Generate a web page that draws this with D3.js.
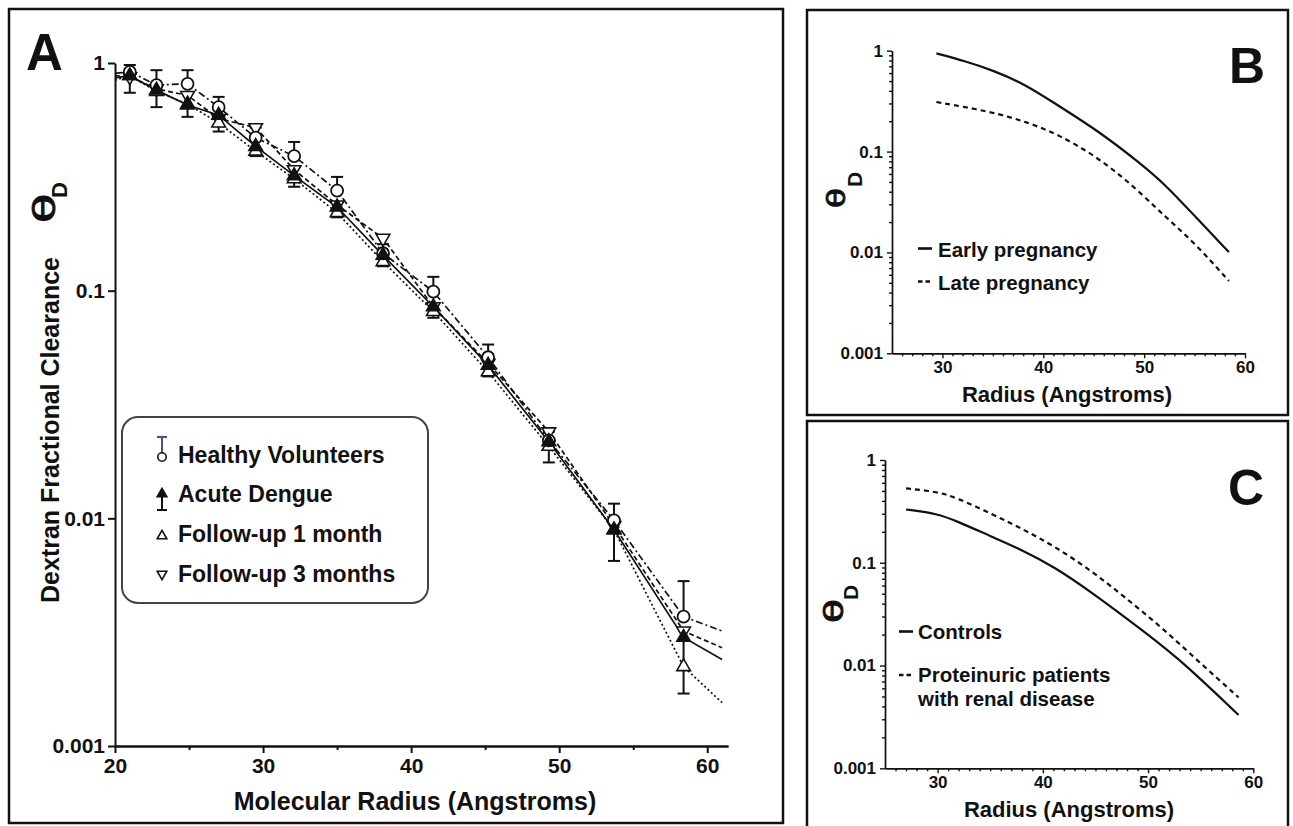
<!DOCTYPE html>
<html><head><meta charset="utf-8">
<script src="https://cdn.jsdelivr.net/npm/d3@7"></script>
<style>
body{margin:0;background:#fff;}
svg text{font-family:"Liberation Sans",Arial,Helvetica,sans-serif;font-weight:bold;fill:#111;}
svg text.theta{font-family:"DejaVu Sans",sans-serif;font-weight:normal;stroke:#111;stroke-width:0.9px;}
</style></head><body>
<svg id="c" width="1293" height="826"></svg>
<script>
// ---------- Panel A data ----------
const radiusA = [21, 22.8, 24.9, 27, 29.5, 32.1, 35, 38.1, 41.5, 45.2, 49.3, 53.7, 58.4];
const healthy      = [0.915, 0.80, 0.81, 0.64, 0.47, 0.39, 0.275, 0.146, 0.099, 0.051, 0.022, 0.0098, 0.0037];
const healthyUpper = [0.98, 0.93, 0.93, 0.71, 0.52, 0.45, 0.316, 0.16, 0.115, 0.058, 0.024, 0.0116, 0.0053];
const acute        = [0.88, 0.76, 0.654, 0.59, 0.43, 0.32, 0.233, 0.143, 0.085, 0.047, 0.0217, 0.0089, 0.003];
const acuteLower   = [0.74, 0.64, 0.58, 0.50, 0.39, 0.286, 0.21, 0.128, 0.076, 0.042, 0.0176, 0.0065, 0.0017];
const followUp1    = [0.88, 0.75, 0.66, 0.545, 0.41, 0.31, 0.22, 0.134, 0.081, 0.044, 0.0207, 0.0089, 0.00223];
const followUp3    = [0.87, 0.77, 0.72, 0.57, 0.52, 0.34, 0.238, 0.17, 0.085, 0.048, 0.024, 0.0093, 0.0032];
const lineStartX = 20, lineEndX = 61;
const lineStartA = [0.90, 0.86, 0.84, 0.88];   // HV, Acute, FU1, FU3
const lineEndA   = [0.0032, 0.0024, 0.00155, 0.0027];
const seriesNamesA = ["Healthy Volunteers", "Acute Dengue", "Follow-up 1 month", "Follow-up 3 months"];
const xTicksA = [20, 30, 40, 50, 60];
const xMinorA = [25, 35, 45, 55];
const yTicks = [1, 0.1, 0.01, 0.001];
const yTickLabels = ["1", "0.1", "0.01", "0.001"];

// ---------- Panel B data ----------
const earlyX = [29.4, 32.2, 35, 38.3, 41.6, 45.3, 49.6, 52.1, 55.1, 58.4];
const earlyY = [0.94, 0.79, 0.64, 0.46, 0.28, 0.164, 0.077, 0.047, 0.0225, 0.0101];
const lateX  = [29.4, 34.7, 38.3, 41.6, 45.3, 48.8, 52.1, 55.1, 58.4];
const lateY  = [0.31, 0.25, 0.198, 0.146, 0.089, 0.047, 0.0225, 0.0122, 0.0052];
const legendB = ["Early pregnancy", "Late pregnancy"];

// ---------- Panel C data ----------
const controlsX = [27, 30, 31.8, 35.1, 38, 41.1, 44.6, 50, 53.4, 58.6];
const controlsY = [0.33, 0.30, 0.255, 0.18, 0.134, 0.091, 0.052, 0.02, 0.0106, 0.0033];
const proteinX  = [27, 30, 31.8, 35.1, 38, 41.1, 44.6, 47.7, 51.2, 54.9, 58.6];
const proteinY  = [0.53, 0.49, 0.43, 0.30, 0.215, 0.145, 0.084, 0.047, 0.024, 0.0107, 0.0049];
const legendC = ["Controls", "Proteinuric patients", "with renal disease"];
const xTicksBC = [30, 40, 50, 60];

const ink = "#111";
const svg = d3.select("#c");

// ---------- frames ----------
function frame(x, y, w, h) {
  svg.append("rect").attr("x", x).attr("y", y).attr("width", w).attr("height", h)
    .attr("fill", "none").attr("stroke", ink).attr("stroke-width", 2.5);
}
frame(9, 9, 774, 814);
frame(807, 10, 481, 405);
frame(807, 421, 481, 412);

function styleAxis(g, fs, sw) {
  g.select(".domain").attr("stroke", ink).attr("stroke-width", sw);
  g.selectAll(".tick line").attr("stroke", ink).attr("stroke-width", sw);
  g.selectAll(".tick text").style("font-size", fs + "px").attr("fill", ink);
}

// ================= PANEL A =================
const xA = d3.scaleLinear().domain([20, 61.4]).range([115, 728]);
const yA = d3.scaleLog().domain([0.001, 1]).range([746, 63]);
const gA = svg.append("g");

gA.append("g").attr("transform", "translate(0,746)")
  .call(d3.axisBottom(xA).tickValues(xMinorA).tickFormat("").tickSize(4).tickSizeOuter(0))
  .call(g => styleAxis(g, 21, 2));
gA.append("g").attr("transform", "translate(0,746)")
  .call(d3.axisBottom(xA).tickValues(xTicksA).tickFormat(d => String(d)).tickSize(7).tickPadding(5).tickSizeOuter(0))
  .call(g => styleAxis(g, 21, 2));
gA.append("g").attr("transform", "translate(115,0)")
  .call(d3.axisLeft(yA).tickValues(yTicks).tickFormat((d, i) => yTickLabels[i]).tickSize(7).tickPadding(3).tickSizeOuter(0))
  .call(g => styleAxis(g, 21, 2));

// axis titles
gA.append("text").attr("x", 415).attr("y", 810).attr("text-anchor", "middle")
  .style("font-size", "25px").text("Molecular Radius (Angstroms)");
gA.append("text").attr("transform", "translate(59,430) rotate(-90)").attr("text-anchor", "middle")
  .style("font-size", "25px").text("Dextran Fractional Clearance");
gA.append("text").attr("class", "theta").attr("transform", "translate(55,223) rotate(-90) scale(1.6,1)")
  .style("font-size", "30px").text("θ");
gA.append("text").attr("transform", "translate(67,198) rotate(-90)")
  .style("font-size", "22px").text("D");
gA.append("text").attr("x", 26).attr("y", 70).style("font-size", "51px").text("A");

// lines
const seriesA = [healthy, acute, followUp1, followUp3];
const dashA = ["7,3,2,3", null, "2,2.5", "5,3"];
const lineA = d3.line().x(d => xA(d[0])).y(d => yA(d[1]));
seriesA.forEach((vals, s) => {
  const pts = [[lineStartX, lineStartA[s]]].concat(radiusA.map((r, i) => [r, vals[i]])).concat([[lineEndX, lineEndA[s]]]);
  gA.append("path").attr("d", lineA(pts)).attr("fill", "none").attr("stroke", ink)
    .attr("stroke-width", 1.7).attr("stroke-dasharray", dashA[s]);
});

// error bars
function errBar(g, x, y0, y1, cap) {
  g.append("line").attr("x1", x).attr("x2", x).attr("y1", y0).attr("y2", y1).attr("stroke", ink).attr("stroke-width", 2);
  g.append("line").attr("x1", x - cap).attr("x2", x + cap).attr("y1", y1).attr("y2", y1).attr("stroke", ink).attr("stroke-width", 2);
}
radiusA.forEach((r, i) => {
  errBar(gA, xA(r), yA(healthy[i]), yA(healthyUpper[i]), 6);
  errBar(gA, xA(r), yA(acute[i]), yA(acuteLower[i]), 6);
});

// markers
const triUp = d3.symbol().type(d3.symbolTriangle).size(80);
const triSm = d3.symbol().type(d3.symbolTriangle).size(40);
function tri(g, x, y, down, filled, gen) {
  g.append("path").attr("d", gen())
    .attr("transform", `translate(${x},${y})` + (down ? " rotate(180)" : ""))
    .attr("fill", filled ? ink : "#fff").attr("stroke", ink).attr("stroke-width", 1.6);
}
radiusA.forEach((r, i) => {
  tri(gA, xA(r), yA(followUp3[i]), true, false, triUp);
  tri(gA, xA(r), yA(followUp1[i]), false, false, triUp);
  gA.append("circle").attr("cx", xA(r)).attr("cy", yA(healthy[i])).attr("r", 6)
    .attr("fill", "#fff").attr("stroke", ink).attr("stroke-width", 1.8);
  tri(gA, xA(r), yA(acute[i]), false, true, triUp);
});

// legend A
const lg = gA.append("g");
lg.append("rect").attr("x", 122).attr("y", 417).attr("width", 306).attr("height", 186).attr("rx", 16)
  .attr("fill", "#fff").attr("stroke", "#444").attr("stroke-width", 2);
const legY = [463, 502, 542, 582];
seriesNamesA.forEach((n, i) => {
  lg.append("text").attr("x", 178).attr("y", legY[i]).style("font-size", "23px").text(n);
});
lg.append("line").attr("x1", 162).attr("x2", 162).attr("y1", 437).attr("y2", 453).attr("stroke", "#4a5590").attr("stroke-width", 2);
lg.append("line").attr("x1", 157).attr("x2", 167).attr("y1", 437).attr("y2", 437).attr("stroke", "#4a5590").attr("stroke-width", 2.2);
lg.append("circle").attr("cx", 162).attr("cy", 457).attr("r", 4.2).attr("fill", "#fff").attr("stroke", ink).attr("stroke-width", 1.6);
lg.append("line").attr("x1", 162).attr("x2", 162).attr("y1", 495).attr("y2", 510).attr("stroke", ink).attr("stroke-width", 2);
lg.append("line").attr("x1", 157).attr("x2", 167).attr("y1", 510).attr("y2", 510).attr("stroke", ink).attr("stroke-width", 2);
tri(lg, 162, 494, false, true, triSm);
tri(lg, 162, 536, false, false, triSm);
tri(lg, 162, 574, true, false, triSm);

// ================= PANEL B / C =================
function logMinor() {
  const v = [];
  [0.001, 0.01, 0.1].forEach(b => { for (let k = 2; k <= 9; k++) v.push(b * k); });
  return v;
}
function smallPanel(opt) {
  const g = svg.append("g");
  const x = d3.scaleLinear().domain([25, 60]).range(opt.xr);
  const y = d3.scaleLog().domain([0.001, 1]).range(opt.yr);
  const minorX = d3.range(26, 60, 1).filter(v => v % 10 !== 0);
  g.append("g").attr("transform", `translate(0,${opt.yr[0]})`)
    .call(d3.axisBottom(x).tickValues(minorX).tickFormat("").tickSize(3).tickSizeOuter(0))
    .call(a => styleAxis(a, 17, 1.4));
  g.append("g").attr("transform", `translate(0,${opt.yr[0]})`)
    .call(d3.axisBottom(x).tickValues(xTicksBC).tickFormat(d => String(d)).tickSize(5).tickPadding(3).tickSizeOuter(0))
    .call(a => styleAxis(a, 17, 1.4));
  g.append("g").attr("transform", `translate(${opt.xr[0]},0)`)
    .call(d3.axisLeft(y).tickValues(logMinor()).tickFormat("").tickSize(3).tickSizeOuter(0))
    .call(a => styleAxis(a, 17, 1.4));
  g.append("g").attr("transform", `translate(${opt.xr[0]},0)`)
    .call(d3.axisLeft(y).tickValues(yTicks).tickFormat((d, i) => yTickLabels[i]).tickSize(5).tickPadding(4).tickSizeOuter(0))
    .call(a => styleAxis(a, 17, 1.4));
  const line = d3.line().x(d => x(d[0])).y(d => y(d[1])).curve(d3.curveBasis);
  opt.curves.forEach(c => {
    g.append("path").attr("d", line(c.x.map((v, i) => [v, c.y[i]])))
      .attr("fill", "none").attr("stroke", ink).attr("stroke-width", 2.2).attr("stroke-dasharray", c.dash);
  });
  g.append("text").attr("x", opt.xlab[0]).attr("y", opt.xlab[1]).attr("text-anchor", "middle")
    .style("font-size", "22px").text("Radius (Angstroms)");
  g.append("text").attr("class", "theta").attr("transform", `translate(${opt.theta[0]},${opt.theta[1]}) rotate(-90) scale(${opt.theta[3]},1)`)
    .style("font-size", opt.theta[2] + "px").text("θ");
  g.append("text").attr("transform", `translate(${opt.dpos[0]},${opt.dpos[1]}) rotate(-90)`)
    .style("font-size", "21px").text("D");
  g.append("text").attr("x", opt.letter[0]).attr("y", opt.letter[1]).style("font-size", "50px").text(opt.letter[2]);
  opt.legend.forEach(l => {
    if (l.sym) g.append("line").attr("x1", l.sx).attr("x2", l.sx + 14).attr("y1", l.sy).attr("y2", l.sy)
      .attr("stroke", ink).attr("stroke-width", 2.6).attr("stroke-dasharray", l.sym === "dash" ? "4.5,3" : null);
    g.append("text").attr("x", l.tx).attr("y", l.ty).style("font-size", "20.5px").text(l.text);
  });
}

smallPanel({
  xr: [892, 1245], yr: [353.3, 50.7],
  curves: [{ x: earlyX, y: earlyY, dash: null }, { x: lateX, y: lateY, dash: "5,4" }],
  xlab: [1067, 402], theta: [845, 208, 25, 1.3], dpos: [862, 187], letter: [1229, 83, "B"],
  legend: [
    { sym: "solid", sx: 918, sy: 248.5, tx: 938, ty: 257, text: legendB[0] },
    { sym: "dash", sx: 918, sy: 281.5, tx: 938, ty: 290, text: legendB[1] }
  ]
});
smallPanel({
  xr: [885, 1253.3], yr: [768.3, 460],
  curves: [{ x: controlsX, y: controlsY, dash: null }, { x: proteinX, y: proteinY, dash: "5,4" }],
  xlab: [1069, 817], theta: [843, 623, 27, 1.45], dpos: [858, 600], letter: [1228, 505, "C"],
  legend: [
    { sym: "solid", sx: 899, sy: 631.5, tx: 918, ty: 639, text: legendC[0] },
    { sym: "dash", sx: 899, sy: 675, tx: 918, ty: 682, text: legendC[1] },
    { sym: null, tx: 918, ty: 706, text: legendC[2] }
  ]
});
</script>
</body></html>
